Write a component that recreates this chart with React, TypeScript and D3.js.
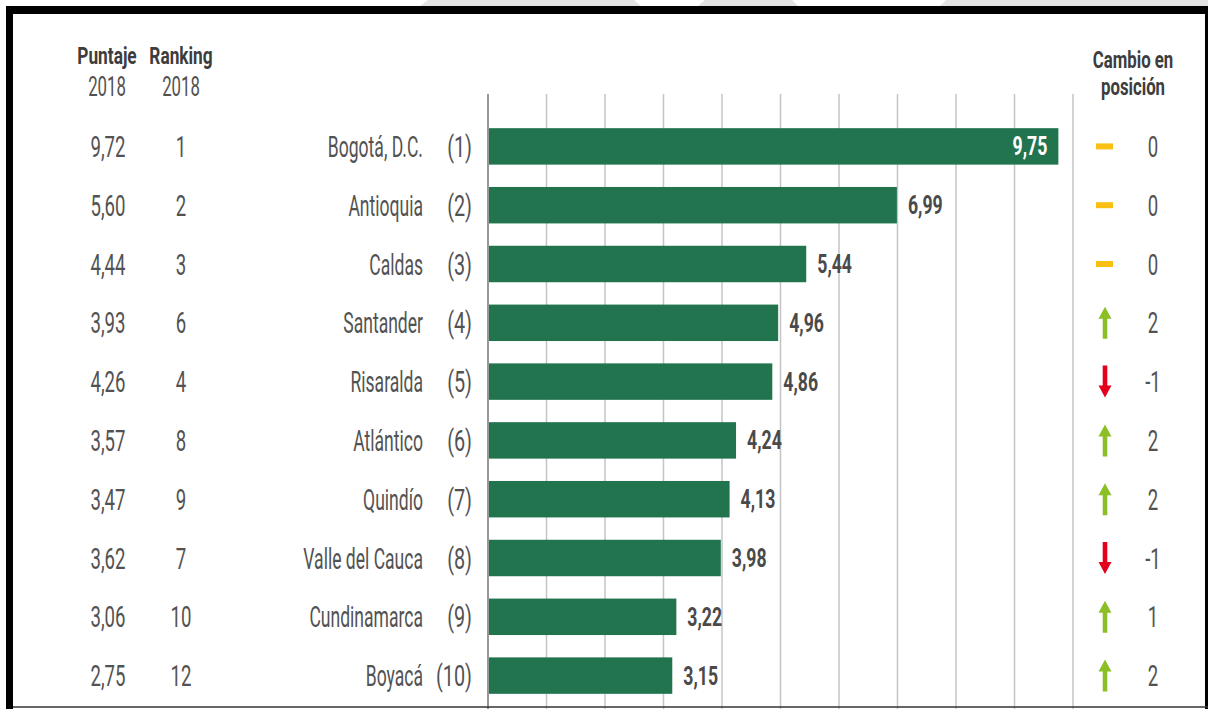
import React from 'react';
import * as d3 from 'd3';

// data
const departamentos = ['Bogotá, D.C.', 'Antioquia', 'Caldas', 'Santander', 'Risaralda', 'Atlántico', 'Quindío', 'Valle del Cauca', 'Cundinamarca', 'Boyacá'];
const puntaje2019 = [9.75, 6.99, 5.44, 4.96, 4.86, 4.24, 4.13, 3.98, 3.22, 3.15];
const puntaje2018 = [9.72, 5.60, 4.44, 3.93, 4.26, 3.57, 3.47, 3.62, 3.06, 2.75];
const ranking2018 = [1, 2, 3, 6, 4, 8, 9, 7, 10, 12];
const cambio = [0, 0, 0, 2, -1, 2, 2, -1, 1, 2];
const gridTicks = [0, 1, 2, 3, 4, 5, 6, 7, 8, 9, 10];

const W = 1208, H = 709;
const FONT = 'Roboto, "Open Sans", sans-serif';
const TXT = '#525252';
const BAR = '#22744f';

const fmt = (v: number) => v.toFixed(2).replace('.', ',');

const Txt = ({ x, y, children, anchor = 'middle', size = 30, weight = 400, fill = TXT, sx = 0.62 }: any) => (
  <text transform={`translate(${x},${y}) scale(${sx},1)`} textAnchor={anchor} fontSize={size}
    fontWeight={weight} fill={fill} fontFamily={FONT}>{children}</text>
);

export default function App() {
  const x = d3.scaleLinear().domain([0, 10]).range([488, 1073]);
  const y = d3.scaleBand<string>().domain(departamentos).range([117, 705]).paddingInner(0.38).paddingOuter(0.19);
  const bw = y.bandwidth();

  return (
    <div style={{ position: 'absolute', left: 0, top: 0 }}>
      <svg width={W} height={H} style={{ display: 'block', background: '#fff' }}>
        {/* faint shapes peeking above the frame */}
        <polygon points="420,6 428,0 634,0 641,6" fill="#e3e3e3" />
        <polygon points="698,6 705,0 792,0 798,6" fill="#e3e3e3" />
        <polygon points="940,6 946,0 1208,0 1208,6" fill="#e3e3e3" />

        {/* grid */}
        {gridTicks.map(t => (
          <line key={t} x1={x(t)} x2={x(t)} y1={94} y2={H} stroke={t === 0 ? '#999' : '#c4c4c4'} strokeWidth={t === 0 ? 2 : 1.5} />
        ))}

        {/* headers */}
        <Txt x={107} y={64} size={24} weight={700} fill="#3d3d3d" sx={0.72}>Puntaje</Txt>
        <Txt x={107} y={96} size={28} sx={0.6}>2018</Txt>
        <Txt x={181} y={64} size={24} weight={700} fill="#3d3d3d" sx={0.72}>Ranking</Txt>
        <Txt x={181} y={96} size={28} sx={0.6}>2018</Txt>
        <Txt x={1133} y={68} size={24} weight={700} fill="#3d3d3d" sx={0.7}>Cambio en</Txt>
        <Txt x={1133} y={95} size={24} weight={700} fill="#3d3d3d" sx={0.7}>posición</Txt>

        {departamentos.map((d, i) => {
          const top = y(d)!;
          const cy = top + bw / 2;
          const base = cy + 10.5;
          const v = puntaje2019[i];
          const inside = x(v) - x(0) > 450;
          const c = cambio[i];
          return (
            <g key={d}>
              <rect x={x(0) + 1} y={top} width={x(v) - x(0) - 1} height={bw} fill={BAR} />
              {inside
                ? <Txt x={x(v) - 11} y={cy + 9} anchor="end" size={26} weight={700} fill="#fff" sx={0.68}>{fmt(v)}</Txt>
                : <Txt x={x(v) + 11} y={cy + 9} anchor="start" size={26} weight={700} fill="#4a4a4a" sx={0.68}>{fmt(v)}</Txt>}
              <Txt x={108} y={base}>{fmt(puntaje2018[i])}</Txt>
              <Txt x={181} y={base}>{ranking2018[i]}</Txt>
              <Txt x={423} y={base} anchor="end" sx={0.585}>{d}</Txt>
              <Txt x={472} y={base} anchor="end" sx={0.66}>({i + 1})</Txt>
              {c === 0 && <rect x={1096} y={cy - 3} width={17} height={6} fill="#f9c012" />}
              {c > 0 && <path d={`M1105,${cy - 16} L1111.5,${cy - 4} L1107.3,${cy - 4} L1107.3,${cy + 16} L1102.7,${cy + 16} L1102.7,${cy - 4} L1098.5,${cy - 4} Z`} fill="#8cbf26" />}
              {c < 0 && <path d={`M1105,${cy + 16} L1111.5,${cy + 4} L1107.3,${cy + 4} L1107.3,${cy - 16} L1102.7,${cy - 16} L1102.7,${cy + 4} L1098.5,${cy + 4} Z`} fill="#e3001b" />}
              <Txt x={1153} y={base}>{c}</Txt>
            </g>
          );
        })}

        {/* frame */}
        <rect x={6} y={6} width={W - 6} height={8} fill="#000" />
        <rect x={6} y={6} width={7} height={H - 6} fill="#000" />
        <rect x={1205} y={6} width={3} height={H - 6} fill="#000" />
        <line x1={13} x2={W} y1={707} y2={707} stroke="#333" strokeWidth={1.5} />
      </svg>
    </div>
  );
}
